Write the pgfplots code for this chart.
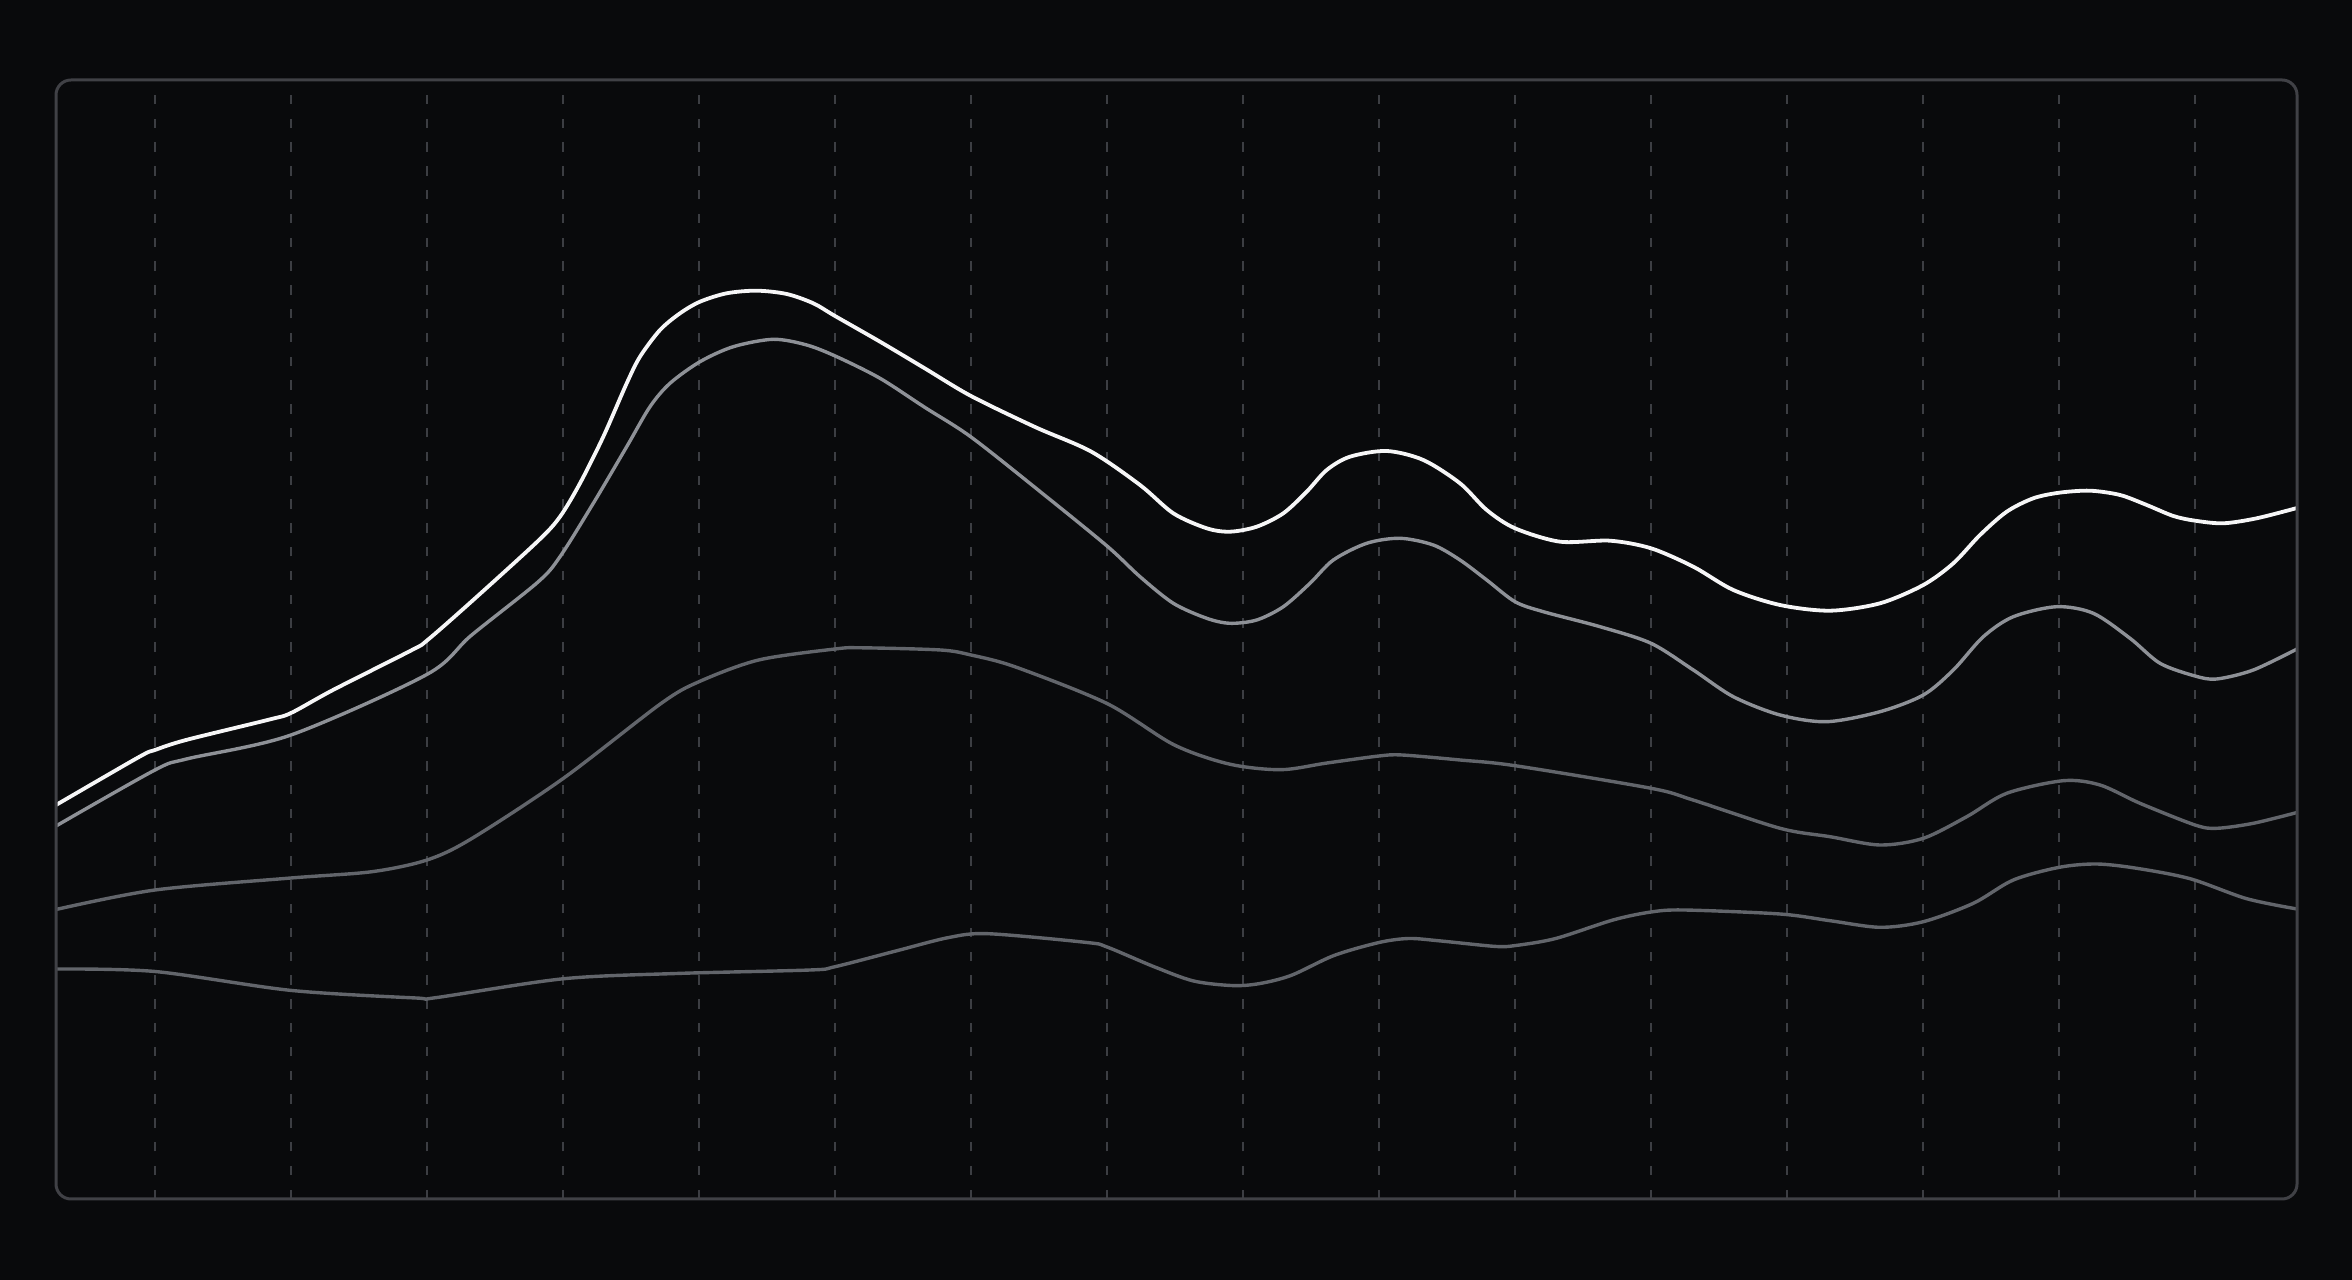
\documentclass[border=0pt]{standalone}
\usepackage{pgfplots}
\pgfplotsset{compat=1.18}

\definecolor{bg}{RGB}{9,10,12}
\definecolor{framecol}{RGB}{64,65,70}
\definecolor{gridcol}{RGB}{60,62,67}
\definecolor{lineA}{RGB}{246,246,247}
\definecolor{lineB}{RGB}{142,145,151}
\definecolor{lineC}{RGB}{98,101,107}
\definecolor{lineD}{RGB}{98,101,107}

\begin{document}
\begin{tikzpicture}
  \fill[bg] (0,0) rectangle (1176bp,640bp);
  \useasboundingbox (0,0) rectangle (1176bp,640bp);

  \begin{axis}[
    name=ax,
    at={(28bp,40.5bp)}, anchor=south west,
    scale only axis,
    width=1120.5bp, height=559.5bp,
    xmin=56, xmax=2297,
    ymin=0, ymax=1119,
    axis line style={draw=none},
    xtick={154.5,290.5,...,2194.5},
    xticklabels={},
    ytick=\empty,
    major tick length=0pt,
    xmajorgrids,
    major grid style={gridcol, line width=1bp, dash pattern=on 4.65bp off 7.25bp},
    every axis plot/.append style={smooth, tension=0.5, line join=round, line cap=round},
  ]
    % bottom series
    \addplot[lineD, line width=1.7bp] table {
      56 230
      155 227.5
      291 208.6
      416 201
      435.6 201.3
      563 220.2
      676 225.5
      810 229
      835 232.3
      897 248.3
      948.4 261.4
      988 265.3
      1087 256.5
      1107 252
      1154 232.3
      1193.6 218
      1233 213.4
      1260 215.5
      1291.4 223.7
      1334 243.5
      1379 256.5
      1409 260.5
      1441 258
      1495 252.6
      1515 253.4
      1555.7 260.5
      1613 279
      1651 287
      1684 289
      1780 285
      1830 278.3
      1880 271.7
      1923.3 277.3
      1973.3 295.7
      2013.3 319
      2059.3 331.7
      2096.7 335
      2136.7 330.7
      2190 320.3
      2246.7 300.3
      2297 290
    };
    % third series
    \addplot[lineC, line width=1.7bp] table {
      56 289.5
      155 309
      291 321
      372 327.3
      427 339
      471 360
      563 420.4
      661 495.5
      699 517.3
      758.6 539
      835 550
      861.4 551.2
      940.5 549
      971 544
      1015.6 532
      1107 495.5
      1173.8 454.3
      1229 435
      1280.7 429.3
      1327 436
      1379 443
      1402 444
      1460 439
      1515 433.3
      1651 410.7
      1693 399
      1780 370.7
      1830 362.3
      1880 354
      1923.3 360.7
      1966.7 382.3
      2006.7 405.7
      2063.3 418.3
      2100 414
      2140 395.7
      2195 374
      2216.7 370.7
      2253.3 375.7
      2297 386.5
    };
    % second series
    \addplot[lineB, line width=1.7bp] table {
      56 373
      155 429
      186.5 440
      291 464
      427 524.6
      471 563.4
      538 617
      560 642.3
      593.3 695.7
      626.7 752.3
      650 792.3
      670 815.7
      700 837.3
      733.3 852.3
      773.3 859.7
      806.7 854
      836.7 842.3
      880 820.7
      925 791.5
      971 762
      1040 707.5
      1107 653
      1140 622.3
      1173.3 595.7
      1206.7 580.7
      1230 575.7
      1256.7 579
      1283.3 592.3
      1310 615.7
      1333.3 639
      1366.7 655.7
      1400 660.7
      1433.3 654
      1460 639
      1486.7 619
      1515 597.3
      1543.3 587.3
      1600 572.3
      1651 555.7
      1693.3 529
      1733.3 502.3
      1780 484
      1826.7 477.3
      1880 487.3
      1923.3 504
      1953.3 529
      1983.3 562.3
      2013.3 582.3
      2056.7 592.3
      2093.3 585.7
      2130 560.7
      2160 535.7
      2195 523
      2216.7 520
      2253.3 529
      2297 550
    };
    % top series
    \addplot[lineA, line width=1.9bp] table {
      56 394
      139 442
      155 449
      186 459
      269.5 479.5
      291 486
      333 509
      412 549
      427 558.5
      471 597
      538 658
      560 682.3
      580 715.7
      603.3 762.3
      626.7 815.7
      640 842.3
      660 869
      680 885.7
      700 897.3
      726.7 905.7
      756.7 908.3
      786.7 905
      813.3 895.7
      835 883
      880 857.3
      925 830.5
      971 803
      1035 772
      1091 747.5
      1140 714
      1173.3 685.7
      1206.7 670.7
      1230 667.3
      1256.7 672.3
      1283.3 685.7
      1306.7 707.3
      1326.7 729
      1350 742.3
      1386.7 748
      1423.3 739
      1460 715.7
      1486.7 689
      1515 670.7
      1560 657.3
      1610 658.3
      1651 650.7
      1693.3 632.3
      1733.3 609
      1780 594
      1830 588.3
      1880 595.7
      1923.3 614
      1953.3 635.7
      1980 664
      2006.7 687.3
      2033.3 700.7
      2059.3 706.3
      2090 708.3
      2120 704
      2146.7 694
      2173.3 683
      2195 678.3
      2223.3 675.7
      2256.7 680.7
      2297 691
    };
  \end{axis}

  \draw[framecol, line width=1.5bp, rounded corners=7.5bp]
    (ax.south west) rectangle (ax.north east);
\end{tikzpicture}
\end{document}
